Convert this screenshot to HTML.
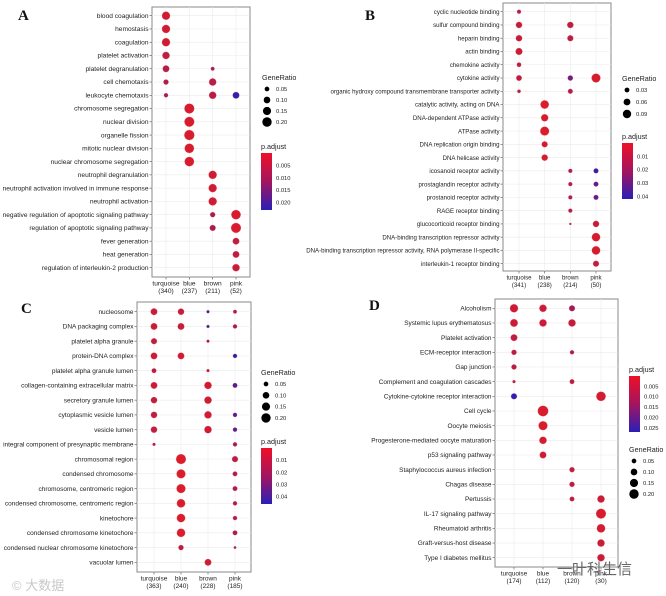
<!DOCTYPE html>
<html><head><meta charset="utf-8"><style>
body{margin:0;background:#fff;width:666px;height:596px;overflow:hidden}
svg{display:block;font-family:"Liberation Sans","Noto Sans CJK SC",sans-serif}
</style></head><body>
<svg id="fig" width="666" height="596" viewBox="0 0 666 596" xmlns="http://www.w3.org/2000/svg">
<defs><linearGradient id="cbar" x1="0" y1="0" x2="0" y2="1"><stop offset="0" stop-color="#ee1028"/><stop offset="0.5" stop-color="#a3155f"/><stop offset="1" stop-color="#2a1fb6"/></linearGradient></defs>
</svg>
<script>
const aTerms=["blood coagulation","hemostasis","coagulation","platelet activation","platelet degranulation","cell chemotaxis","leukocyte chemotaxis","chromosome segregation","nuclear division","organelle fission","mitotic nuclear division","nuclear chromosome segregation","neutrophil degranulation","neutrophil activation involved in immune response","neutrophil activation","negative regulation of apoptotic signaling pathway","regulation of apoptotic signaling pathway","fever generation","heat generation","regulation of interleukin-2 production"];
const aGroups=["turquoise","blue","brown","pink"];
const aCounts=["(340)","(237)","(211)","(52)"];
const aDots=[[0,0,.15,.002],[1,0,.15,.002],[2,0,.15,.002],[3,0,.12,.004],[4,0,.10,.005],[4,2,.03,.008],[5,0,.06,.006],[5,2,.12,.005],[6,0,.04,.007],[6,2,.12,.005],[6,3,.10,.022],[7,1,.22,.001],[8,1,.22,.001],[9,1,.23,.001],[10,1,.20,.001],[11,1,.20,.001],[12,2,.15,.002],[13,2,.15,.002],[14,2,.15,.002],[15,2,.06,.007],[15,3,.20,.001],[16,2,.08,.007],[16,3,.22,.001],[17,3,.10,.004],[18,3,.10,.004],[19,3,.12,.003]];
const aRatioTicks=[0.05,0.10,0.15,0.20];
const aPTicks=[0.005,0.010,0.015,0.020];

const bTerms=["cyclic nucleotide binding","sulfur compound binding","heparin binding","actin binding","chemokine activity","cytokine activity","organic hydroxy compound transmembrane transporter activity","catalytic activity, acting on DNA","DNA-dependent ATPase activity","ATPase activity","DNA replication origin binding","DNA helicase activity","icosanoid receptor activity","prostaglandin receptor activity","prostanoid receptor activity","RAGE receptor binding","glucocorticoid receptor binding","DNA-binding transcription repressor activity","DNA-binding transcription repressor activity, RNA polymerase II-specific","interleukin-1 receptor binding"];
const bGroups=["turquoise","blue","brown","pink"];
const bCounts=["(341)","(238)","(214)","(50)"];
const bDots=[[0,0,.02,.01],[1,0,.05,.006],[1,2,.05,.008],[2,0,.05,.006],[2,2,.045,.008],[3,0,.06,.005],[4,0,.025,.008],[5,0,.04,.008],[5,2,.035,.026],[5,3,.10,.002],[6,0,.015,.01],[6,2,.03,.01],[7,1,.09,.001],[8,1,.065,.002],[9,1,.10,.001],[10,1,.045,.003],[11,1,.05,.003],[12,2,.02,.01],[12,3,.03,.04],[13,2,.02,.01],[13,3,.03,.03],[14,2,.02,.01],[14,3,.03,.03],[15,2,.02,.01],[16,2,.006,.012],[16,3,.05,.006],[17,3,.09,.002],[18,3,.09,.002],[19,3,.045,.007]];
const bRatioTicks=[0.03,0.06,0.09];
const bPTicks=[0.01,0.02,0.03,0.04];

const cTerms=["nucleosome","DNA packaging complex","platelet alpha granule","protein-DNA complex","platelet alpha granule lumen","collagen-containing extracellular matrix","secretory granule lumen","cytoplasmic vesicle lumen","vesicle lumen","integral component of presynaptic membrane","chromosomal region","condensed chromosome","chromosome, centromeric region","condensed chromosome, centromeric region","kinetochore","condensed chromosome kinetochore","condensed nuclear chromosome kinetochore","vacuolar lumen"];
const cGroups=["turquoise","blue","brown","pink"];
const cCounts=["(363)","(240)","(228)","(185)"];
const cDots=[[0,0,.10,.006],[0,1,.09,.006],[0,2,.02,.04],[0,3,.03,.015],[1,0,.10,.006],[1,1,.10,.006],[1,2,.02,.04],[1,3,.04,.015],[2,0,.08,.008],[2,2,.02,.015],[3,0,.10,.006],[3,1,.10,.004],[3,3,.04,.045],[4,0,.05,.01],[4,2,.02,.01],[5,0,.10,.006],[5,2,.12,.004],[5,3,.05,.035],[6,0,.09,.008],[6,2,.12,.004],[7,0,.09,.008],[7,2,.12,.004],[7,3,.04,.035],[8,0,.09,.008],[8,2,.12,.004],[8,3,.04,.035],[9,0,.02,.012],[9,3,.04,.015],[10,1,.22,.001],[10,3,.08,.01],[11,1,.18,.001],[11,3,.05,.012],[12,1,.18,.001],[12,3,.05,.012],[13,1,.16,.001],[13,3,.04,.012],[14,1,.16,.001],[14,3,.04,.012],[15,1,.16,.001],[15,3,.05,.012],[16,1,.06,.01],[16,3,.015,.015],[17,2,.10,.004]];
const cRatioTicks=[0.05,0.10,0.15,0.20];
const cPTicks=[0.01,0.02,0.03,0.04];

const dTerms=["Alcoholism","Systemic lupus erythematosus","Platelet activation","ECM-receptor interaction","Gap junction","Complement and coagulation cascades","Cytokine-cytokine receptor interaction","Cell cycle","Oocyte meiosis","Progesterone-mediated oocyte maturation","p53 signaling pathway","Staphylococcus aureus infection","Chagas disease","Pertussis","IL-17 signaling pathway","Rheumatoid arthritis","Graft-versus-host disease","Type I diabetes mellitus"];
const dGroups=["turquoise","blue","brown","pink"];
const dCounts=["(174)","(112)","(120)","(30)"];
const dDots=[[0,0,.15,.003],[0,1,.12,.003],[0,2,.08,.01],[1,0,.13,.003],[1,1,.12,.003],[1,2,.12,.004],[2,0,.10,.005],[3,0,.06,.006],[3,2,.04,.008],[4,0,.06,.006],[5,0,.02,.006],[5,2,.05,.006],[6,0,.08,.026],[6,3,.20,.002],[7,1,.25,.001],[8,1,.18,.001],[9,1,.12,.002],[10,1,.10,.003],[11,2,.06,.005],[12,2,.06,.005],[13,2,.05,.006],[13,3,.12,.003],[14,3,.22,.001],[15,3,.16,.002],[16,3,.12,.003],[17,3,.12,.003]];
const dRatioTicks=[0.05,0.10,0.15,0.20];
const dPTicks=[0.005,0.010,0.015,0.020,0.025];

const NS="http://www.w3.org/2000/svg";
const svg=document.getElementById('fig');
function mk(tag,attrs,parent,text){const e=document.createElementNS(NS,tag);for(const k in attrs)e.setAttribute(k,attrs[k]);if(text!==undefined)e.textContent=text;(parent||svg).appendChild(e);return e;}
function lerp(a,b,t){return a+(b-a)*t}
function colorFor(p,pmin,pmax){let t=Math.max(0,Math.min(1,(p-pmin)/(pmax-pmin)));
 const c0=[222,28,40],c1=[42,31,182];
 return `rgb(${Math.round(lerp(c0[0],c1[0],t))},${Math.round(lerp(c0[1],c1[1],t))},${Math.round(lerp(c0[2],c1[2],t))})`;}

function panel(cfg){
 const g=mk('g',{});
 
 
 const n=cfg.terms.length;
 const yS=i=>cfg.y0+i*(cfg.y1-cfg.y0)/(n-1);
 const xS=j=>cfg.cx0+j*(cfg.cx1-cfg.cx0)/(cfg.groups.length-1);
 const rS=v=>Math.sqrt(v)*cfg.k;
 const box=mk('rect',{x:cfg.bx0,y:cfg.by0,width:cfg.bx1-cfg.bx0,height:cfg.by1-cfg.by0,fill:'#fff',stroke:'#8a8a8a','stroke-width':1},g);
 
 
 cfg.terms.forEach((t,i)=>{const y=yS(i);
  mk('line',{x1:cfg.bx0,x2:cfg.bx1,y1:y,y2:y,stroke:'#ebebeb','stroke-width':0.6},g);
  mk('line',{x1:cfg.bx0-2.5,x2:cfg.bx0,y1:y,y2:y,stroke:'#555','stroke-width':0.6},g);
  const tx=mk('text',{x:cfg.bx0-3.5,y:y+2.2,'font-size':cfg.fs,'text-anchor':'end',fill:'#222'},g,t);
  
  
 });
 cfg.groups.forEach((gr,j)=>{const x=xS(j);
  mk('line',{x1:x,x2:x,y1:cfg.by0,y2:cfg.by1,stroke:'#ebebeb','stroke-width':0.6},g);
  mk('line',{x1:x,x2:x,y1:cfg.by1,y2:cfg.by1+2.5,stroke:'#555','stroke-width':0.6},g);
  const l1=mk('text',{x:x,y:cfg.by1+8.5,'font-size':cfg.fs,'text-anchor':'middle',fill:'#222'},g,gr);
  
  
  const l2=mk('text',{x:x,y:cfg.by1+16,'font-size':cfg.fs,'text-anchor':'middle',fill:'#222'},g,cfg.counts[j]);
  
  
 });
 cfg.dots.forEach(d=>{
  const c=mk('circle',{cx:xS(d[1]),cy:yS(d[0]),r:rS(d[2]),fill:colorFor(d[3],cfg.pmin,cfg.pmax),stroke:'rgba(240,120,120,0.35)','stroke-width':0.6},g);
  
  
 });
 const L=mk('text',{x:cfg.lx,y:cfg.ly,'font-size':15,'font-weight':'bold','font-family':'Liberation Serif,serif',fill:'#111'},g,cfg.letter);
 
 
 const gl=mk('g',{},g);
 
 
 mk('text',{x:cfg.gx,y:cfg.gy,'font-size':7.2,fill:'#222'},gl,'GeneRatio');
 cfg.rticks.forEach((v,i)=>{const yy=cfg.gy+9+i*cfg.gsp;
  mk('circle',{cx:cfg.gx+5,cy:yy,r:rS(v),fill:'#000'},gl);
  mk('text',{x:cfg.gx+14,y:yy+2,'font-size':5.8,fill:'#222'},gl,v.toFixed(2));});
 const pl=mk('g',{},g);
 
 
 mk('text',{x:cfg.px,y:cfg.py-4,'font-size':7.2,fill:'#222'},pl,'p.adjust');
 mk('rect',{x:cfg.px,y:cfg.py,width:11,height:cfg.ph,fill:'url(#cbar)'},pl);
 cfg.pticks.forEach(v=>{const yy=cfg.py+(v-cfg.pmin)/(cfg.pmax-cfg.pmin)*cfg.ph;
  mk('text',{x:cfg.px+15,y:yy+2,'font-size':5.8,fill:'#222'},pl,v.toFixed(cfg.pdec));});
}

panel({name:'panel-a-bp',letter:'A',lx:18,ly:20,terms:aTerms,groups:aGroups,counts:aCounts,dots:aDots,bx0:152,bx1:250,by0:7,by1:277,cx0:166,cx1:236,y0:15.7,y1:267.7,fs:6.6,k:10.5,pmin:0,pmax:0.023,rticks:aRatioTicks,gx:262,gy:80,gsp:11,pticks:aPTicks,pdec:3,px:261,py:153,ph:57});
panel({name:'panel-b-mf',letter:'B',lx:365,ly:20,terms:bTerms,groups:bGroups,counts:bCounts,dots:bDots,bx0:503,bx1:611,by0:3,by1:271,cx0:519,cx1:596,y0:11.7,y1:263.7,fs:6.1,k:14,pmin:0,pmax:0.042,rticks:bRatioTicks,gx:622,gy:81,gsp:12,pticks:bPTicks,pdec:2,px:622,py:143,ph:56});
panel({name:'panel-c-cc',letter:'C',lx:21,ly:313,terms:cTerms,groups:cGroups,counts:cCounts,dots:cDots,bx0:137,bx1:251,by0:302,by1:572,cx0:154,cx1:235,y0:311.7,y1:562.3,fs:6.5,k:10.5,pmin:0,pmax:0.046,rticks:cRatioTicks,gx:261,gy:375,gsp:11.3,pticks:cPTicks,pdec:2,px:261,py:448,ph:56});
panel({name:'panel-d-kegg',letter:'D',lx:369,ly:310,terms:dTerms,groups:dGroups,counts:dCounts,dots:dDots,bx0:495,bx1:618,by0:299,by1:567,cx0:514,cx1:601,y0:308.3,y1:557.7,fs:6.45,k:10.5,pmin:0,pmax:0.027,rticks:dRatioTicks,gx:629,gy:452,gsp:11,pticks:dPTicks,pdec:3,px:629,py:376,ph:56});

const w1=mk('text',{x:12,y:590,'font-size':13,fill:'#c8c8c8'},svg,'© 大数据');


const w2=mk('text',{x:557,y:574,'font-size':15,fill:'#666'},svg,'一叶科生信');


</script>
</body></html>
